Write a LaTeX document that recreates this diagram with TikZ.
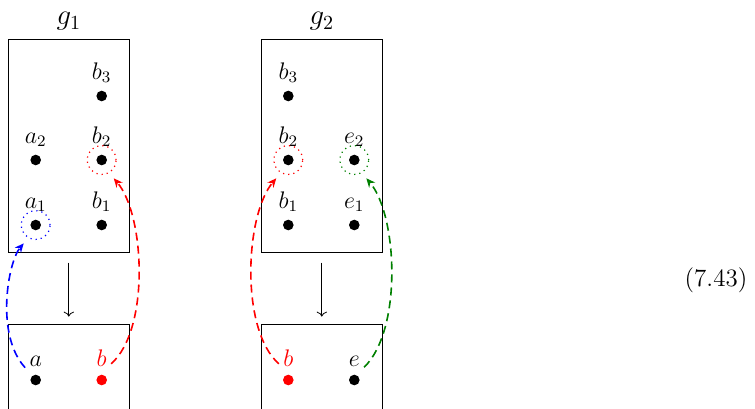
\documentclass[tikz,border=0pt]{standalone}
\usetikzlibrary{arrows.meta, positioning}

\begin{document}
\begin{tikzpicture}[
        x=0.5pt, y=-0.5pt,
        every node/.style={font=\fontsize{11.5}{13}\selectfont},
        frame/.style={rectangle, draw, minimum width=60.5pt, minimum height=#1, inner sep=0pt},
        frame/.default=106.5pt,
        title/.style={inner sep=2pt, font=\fontsize{14}{16}\selectfont},
        dot/.style={circle, fill=#1, inner sep=0pt, minimum size=5.3pt},
        dot/.default=black,
        ring/.style={circle, draw=#1, dotted, semithick, inner sep=0pt, minimum size=14.4pt},
        lbl/.style={inner sep=2pt},
        link/.style={-{Stealth[length=4.5pt, width=4pt]}, dash pattern=on 4pt off 2.5pt, thick, shorten >=3.5pt, draw=#1},
        down/.style={->, shorten <=5pt, shorten >=3.5pt},
        node distance=1.6pt
    ]
    \useasboundingbox (0,0) rectangle (755,408);

    % g_1
    \node[frame] (top1) at (68.8,145.8) {};
    \node[frame=58pt] (bot1) at (68.8,382) {};
    \node[title, above=2pt of top1] (g1) {$g_1$};
    \node[dot] (b3) at (101.7,96) {};
    \node[dot] (a2) at (35.7,160) {};
    \node[dot] (b2) at (101.7,160) {};
    \node[dot] (a1) at (35.7,225) {};
    \node[dot] (b1) at (101.7,225) {};
    \node[dot] (a) at (35.7,380) {};
    \node[dot=red] (b) at (101.7,380) {};
    \node[lbl, above=of b3] (lb3) {$b_3$};
    \node[lbl, above=of a2] (la2) {$a_2$};
    \node[lbl, above=of b2] (lb2) {$b_2$};
    \node[lbl, above=of a1] (la1) {$a_1$};
    \node[lbl, above=of b1] (lb1) {$b_1$};
    \node[lbl, above=of a] (la) {$a$};
    \node[lbl, above=of b, text=red] (lb) {$b$};
    \node[ring=blue] (ra1) at (a1) {};
    \node[ring=red] (rb2) at (b2) {};

    \draw[down] (top1) -- (bot1);
    \draw[link=blue] (la.210) .. controls (-5,335) and (8,262) .. (ra1.240);
    \draw[link=red] (lb.-30) .. controls (150,330) and (145,215) .. (rb2.300);

    % g_2
    \node[frame] (top2) at (321.8,145.8) {};
    \node[frame=58pt] (bot2) at (321.8,382) {};
    \node[title, above=2pt of top2] (g2) {$g_2$};
    \node[dot] (b3r) at (288.3,96) {};
    \node[dot] (b2r) at (288.3,160) {};
    \node[dot] (e2) at (354.3,160) {};
    \node[dot] (b1r) at (288.3,225) {};
    \node[dot] (e1) at (354.3,225) {};
    \node[dot=red] (br) at (288.3,380) {};
    \node[dot] (e) at (354.3,380) {};
    \node[lbl, above=of b3r] (lb3r) {$b_3$};
    \node[lbl, above=of b2r] (lb2r) {$b_2$};
    \node[lbl, above=of e2] (le2) {$e_2$};
    \node[lbl, above=of b1r] (lb1r) {$b_1$};
    \node[lbl, above=of e1] (le1) {$e_1$};
    \node[lbl, above=of br, text=red] (lbr) {$b$};
    \node[lbl, above=of e] (le) {$e$};
    \node[ring=red] (rb2r) at (b2r) {};
    \node[ring=green!50!black] (re2) at (e2) {};

    \draw[down] (top2) -- (bot2);
    \draw[link=red] (lbr.210) .. controls (240,330) and (245,215) .. (rb2r.240);
    \draw[link=green!50!black] (le.-30) .. controls (402.6,330) and (397.6,215) .. (re2.300);

    \node[font=\fontsize{12.5}{15}\selectfont] (eq) at (716,280) {(7.43)};
\end{tikzpicture}
\end{document}
